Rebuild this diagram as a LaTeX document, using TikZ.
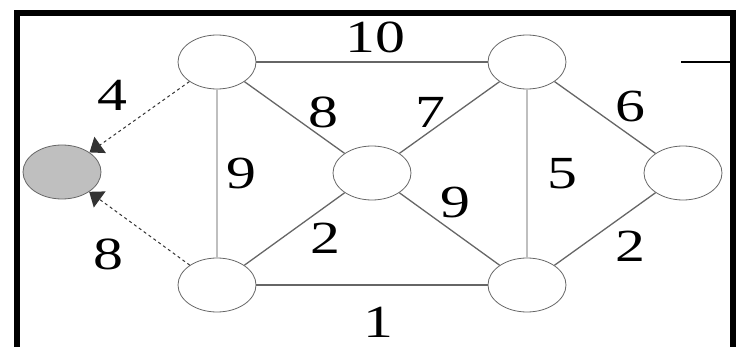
\documentclass[tikz,border=0pt]{standalone}
\usepackage{fontspec}
\setmainfont{Liberation Serif}
\newfontfamily\wfont{Liberation Serif}
\newcommand{\wtxt}[1]{\scalebox{1.3}[1]{#1}}
\usetikzlibrary{shapes.geometric,arrows.meta}
\begin{document}
\begin{tikzpicture}[x=1pt,y=-1pt,
  vtx/.style={ellipse,draw=black!60,line width=0.8pt,minimum width=78pt,minimum height=54pt,inner sep=0pt},
  edge/.style={draw=black!60,line width=1.3pt},
  vedge/.style={draw=black!25,line width=2.4pt},
  dashedge/.style={draw=black!80,line width=1pt,dash pattern=on 3pt off 3pt,-{Triangle[length=13pt,width=20pt,line width=0pt]}},
  wlabel/.style={font=\wfont\fontsize{46}{46}\selectfont,inner sep=0pt}]
\useasboundingbox (0,0) rectangle (742,347);
% frame
\draw[line width=6pt,miter limit=10] (17,350) -- (17,13) -- (733,13) -- (733,350);
\coordinate (s1) at (681,62);
\coordinate (s2) at (730,62);
\draw[line width=2pt] (s1) -- (s2);
% vertices
\node[vtx] (A) at (217,62) {};
\node[vtx] (B) at (527,62) {};
\node[vtx] (C) at (372,173) {};
\node[vtx] (D) at (683,173) {};
\node[vtx] (E) at (217,285) {};
\node[vtx] (F) at (527,285) {};
\node[vtx,fill=black!25] (G) at (62,172) {};
% edges
\draw[edge] (A) -- (B);
\draw[edge] (E) -- (F);
\draw[edge] (A) -- (C);
\draw[edge] (C) -- (B);
\draw[edge] (E) -- (C);
\draw[edge] (C) -- (F);
\draw[edge] (B) -- (D);
\draw[edge] (F) -- (D);
\draw[vedge] (A) -- (E);
\draw[vedge] (B) -- (F);
\draw[dashedge] (A) -- (G);
\draw[dashedge] (E) -- (G);
% labels
\node[wlabel] (l10) at (375,37) {\wtxt{10}};
\node[wlabel] (l4) at (112,95) {\wtxt{4}};
\node[wlabel] (l8a) at (323,112) {\wtxt{8}};
\node[wlabel] (l7) at (430,112) {\wtxt{7}};
\node[wlabel] (l6) at (630,106) {\wtxt{6}};
\node[wlabel] (l9a) at (241,173) {\wtxt{9}};
\node[wlabel] (l5) at (562,174) {\wtxt{5}};
\node[wlabel] (l9b) at (455,202) {\wtxt{9}};
\node[wlabel] (l2a) at (325,238) {\wtxt{2}};
\node[wlabel] (l2b) at (630,246) {\wtxt{2}};
\node[wlabel] (l8b) at (108,254) {\wtxt{8}};
\node[wlabel] (l1) at (378,322) {\wtxt{1}};
\end{tikzpicture}
\end{document}
